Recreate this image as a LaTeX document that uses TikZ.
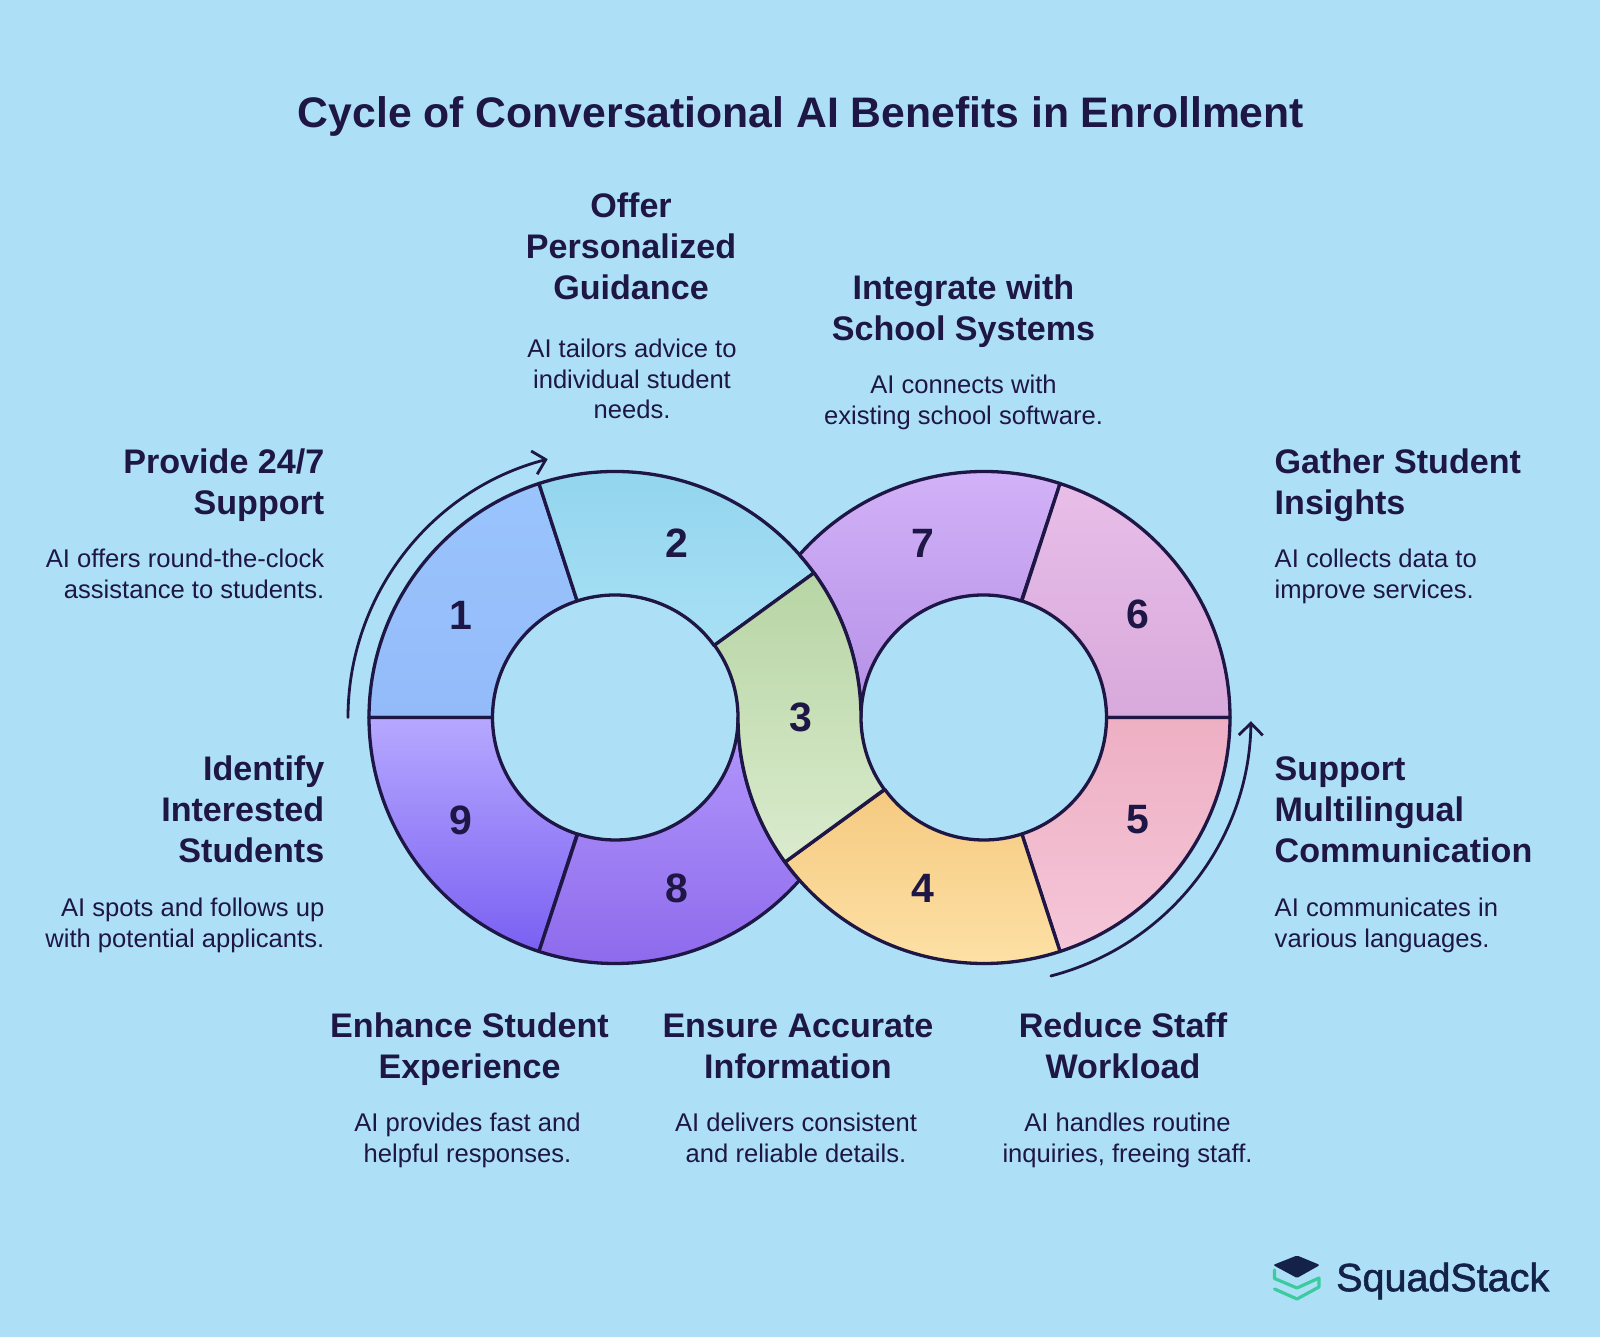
\documentclass[tikz,border=0pt]{standalone}
\usepackage{fontspec}
\setmainfont{Liberation Sans}
\newfontfamily\logofont[FakeBold=1.5]{Liberation Sans}
\usetikzlibrary{arrows.meta}
\definecolor{bgc}{HTML}{ADE0F6}
\definecolor{ink}{HTML}{1E1645}
\definecolor{logoink}{HTML}{14224A}
\definecolor{logogreen}{HTML}{3CCB9E}
\definecolor{a1}{HTML}{9AC4FC}\definecolor{b1}{HTML}{93BBFA}
\definecolor{a2}{HTML}{90D4ED}\definecolor{b2}{HTML}{A8E0F5}
\definecolor{a3}{HTML}{B7D5A4}\definecolor{b3}{HTML}{DAEBCD}
\definecolor{a4}{HTML}{F5CA80}\definecolor{b4}{HTML}{FEE3AA}
\definecolor{a5}{HTML}{EEAFC3}\definecolor{b5}{HTML}{F5C6D8}
\definecolor{a6}{HTML}{E8BEE8}\definecolor{b6}{HTML}{D8A9DC}
\definecolor{a7}{HTML}{D4B4F9}\definecolor{b7}{HTML}{B48FE6}
\definecolor{a8}{HTML}{B398FC}\definecolor{b8}{HTML}{8B67EB}
\definecolor{a9}{HTML}{B6A8FF}\definecolor{b9}{HTML}{7A60F2}
\newcommand{\ROut}{246pt}
\newcommand{\RIn}{122.5pt}
\tikzset{
  x=1pt,y=1pt,
  edge/.style={draw=ink,line width=3.3pt,line join=round},
  flow/.style={draw=ink,line width=2.8pt,line cap=round,-{Straight Barb[length=12pt,width=24pt,line width=2.8pt]}},
  head/.style={font=\fontsize{34.1}{41}\selectfont\bfseries,text=ink,inner sep=0pt},
  body/.style={font=\fontsize{25.6}{30.6}\selectfont,text=ink,inner sep=0pt},
  num/.style={font=\fontsize{41}{41}\selectfont\bfseries,text=ink,inner sep=0pt,anchor=center},
  seg/.style n args={2}{top color=#1,bottom color=#2,edge},
}
\begin{document}
\begin{tikzpicture}
\useasboundingbox (0,0) rectangle (1600,1337);
\fill[bgc] (0,0) rectangle (1600,1337);
\coordinate (L) at (615,619.5);
\coordinate (R) at (984,619.5);

% segments
\draw[seg={a1}{b1}] ([shift={(180:\ROut)}]L) arc[start angle=180,end angle=108,radius=\ROut] -- ([shift={(108:\RIn)}]L) arc[start angle=108,end angle=180,radius=\RIn] -- cycle;
\draw[seg={a2}{b2}] ([shift={(108:\ROut)}]L) arc[start angle=108,end angle=36,radius=\ROut] -- ([shift={(36:\RIn)}]L) arc[start angle=36,end angle=108,radius=\RIn] -- cycle;
\draw[seg={a9}{b9}] ([shift={(180:\ROut)}]L) arc[start angle=180,end angle=252,radius=\ROut] -- ([shift={(252:\RIn)}]L) arc[start angle=252,end angle=180,radius=\RIn] -- cycle;
\draw[seg={a8}{b8}] ([shift={(252:\ROut)}]L) arc[start angle=252,end angle=318.6,radius=\ROut] arc[start angle=221.4,end angle=180,radius=\ROut] arc[start angle=0,end angle=-108,radius=\RIn] -- cycle;
\draw[seg={a7}{b7}] ([shift={(72:\ROut)}]R) arc[start angle=72,end angle=138.6,radius=\ROut] arc[start angle=41.4,end angle=0,radius=\ROut] arc[start angle=180,end angle=72,radius=\RIn] -- cycle;
\draw[seg={a6}{b6}] ([shift={(0:\ROut)}]R) arc[start angle=0,end angle=72,radius=\ROut] -- ([shift={(72:\RIn)}]R) arc[start angle=72,end angle=0,radius=\RIn] -- cycle;
\draw[seg={a5}{b5}] ([shift={(0:\ROut)}]R) arc[start angle=0,end angle=-72,radius=\ROut] -- ([shift={(-72:\RIn)}]R) arc[start angle=-72,end angle=0,radius=\RIn] -- cycle;
\draw[seg={a4}{b4}] ([shift={(-72:\ROut)}]R) arc[start angle=-72,end angle=-144,radius=\ROut] -- ([shift={(-144:\RIn)}]R) arc[start angle=-144,end angle=-72,radius=\RIn] -- cycle;
\draw[seg={a3}{b3}] ([shift={(36:\RIn)}]L) -- ([shift={(36:\ROut)}]L) arc[start angle=36,end angle=0,radius=\ROut] arc[start angle=180,end angle=216,radius=\RIn] -- ([shift={(216:\ROut)}]R) arc[start angle=216,end angle=180,radius=\ROut] arc[start angle=0,end angle=36,radius=\RIn] -- cycle;

% flow arrows
\draw[flow] ([shift={(180:267pt)}]L) arc[start angle=180,end angle=104.6,radius=267pt];
\draw[flow] ([shift={(-75.5:267pt)}]R) arc[start angle=-75.5,end angle=-0.8,radius=267pt];

% numbers
\node[num] (n1) at (461,722) {1};
\node[num] (n2) at (676.5,794) {2};
\node[num] (n3) at (801,620) {3};
\node[num] (n4) at (922.5,449) {4};
\node[num] (n5) at (1138,517) {5};
\node[num] (n6) at (1138,723) {6};
\node[num] (n7) at (922.5,794) {7};
\node[num] (n8) at (676.5,449) {8};
\node[num] (n9) at (461,517) {9};

% title
\node[font=\fontsize{42.7}{49}\selectfont\bfseries,text=ink,inner sep=0pt] (title) at (801,1221) {Cycle of Conversational AI Benefits in Enrollment};

% labels
\node[head,align=center,anchor=north] (h2) at (631,1144.5) {Offer\\Personalized\\Guidance};
\node[body,align=center,anchor=north] (d2) at (632,998) {AI tailors advice to\\individual student\\needs.};
\node[head,align=center,anchor=north] (h7) at (963.5,1062) {Integrate with\\School Systems};
\node[body,align=center,anchor=north] (d7) at (963.5,962) {AI connects with\\existing school software.};
\node[head,align=right,anchor=north east] (h1) at (324.5,888) {Provide 24/7\\Support};
\node[body,align=right,anchor=north east] (d1) at (324.5,788) {AI offers round-the-clock\\assistance to students.};
\node[head,align=left,anchor=north west] (h6) at (1274.5,888) {Gather Student\\Insights};
\node[body,align=left,anchor=north west] (d6) at (1274.5,788) {AI collects data to\\improve services.};
\node[head,align=right,anchor=north east] (h9) at (324.5,581) {Identify\\Interested\\Students};
\node[body,align=right,anchor=north east] (d9) at (324.5,439) {AI spots and follows up\\with potential applicants.};
\node[head,align=left,anchor=north west] (h5) at (1274.5,580.5) {Support\\Multilingual\\Communication};
\node[body,align=left,anchor=north west] (d5) at (1274.5,439) {AI communicates in\\various languages.};
\node[head,align=center,anchor=north] (h8) at (469.5,324.5) {Enhance Student\\Experience};
\node[body,align=center,anchor=north] (d8) at (467.5,224) {AI provides fast and\\helpful responses.};
\node[head,align=center,anchor=north] (h3) at (798,323.5) {Ensure Accurate\\Information};
\node[body,align=center,anchor=north] (d3) at (796,224) {AI delivers consistent\\and reliable details.};
\node[head,align=center,anchor=north] (h4) at (1123,324.5) {Reduce Staff\\Workload};
\node[body,align=center,anchor=north] (d4) at (1127.5,224) {AI handles routine\\inquiries, freeing staff.};

% logo
\draw[logogreen,line width=3.2pt,line join=round,line cap=round] (1274.5,1337-1270) -- (1274.5,1337-1278.5) -- (1297,1337-1288) -- (1319,1337-1278) -- (1319,1337-1287) -- (1297,1337-1299) -- (1274.5,1337-1289);
\fill[logoink,rounded corners=1.5pt] (1273,1337-1265) -- (1297,1337-1255.5) -- (1320,1337-1265) -- (1297,1337-1278) -- cycle;
\node[font=\fontsize{39.5}{39.5}\logofont,text=logoink,inner sep=0pt,anchor=west] (logo) at (1336,1337-1281) {SquadStack};
\end{tikzpicture}
\end{document}
